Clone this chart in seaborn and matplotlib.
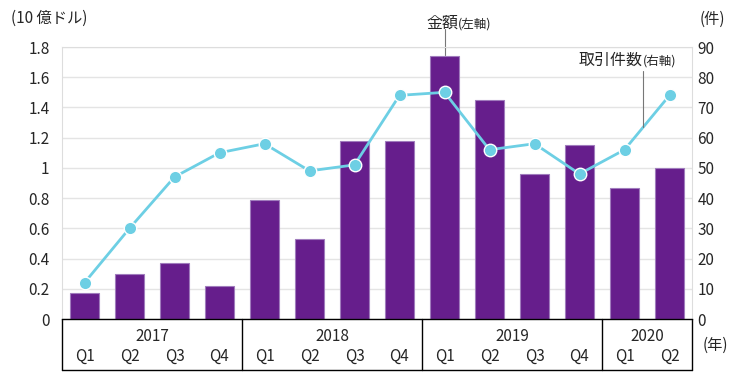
import numpy as np
import pandas as pd
import matplotlib
matplotlib.use('Agg')
import matplotlib.pyplot as plt
import matplotlib.transforms as mtransforms
import seaborn as sns

# data
year_of = ['2017'] * 4 + ['2018'] * 4 + ['2019'] * 4 + ['2020'] * 2
quarters = ['Q1', 'Q2', 'Q3', 'Q4'] * 3 + ['Q1', 'Q2']
amount = [0.17, 0.30, 0.37, 0.22, 0.79, 0.53, 1.18, 1.175,
          1.74, 1.45, 0.96, 1.15, 0.865, 1.00]   # 10 億ドル (left axis)
deals = [12, 30, 47, 55, 58, 49, 51, 74, 75, 56, 58, 48, 56, 74]  # 件 (right axis)
left_ticks = [0, 0.2, 0.4, 0.6, 0.8, 1.0, 1.2, 1.4, 1.6, 1.8]
left_labels = ['0', '0.2', '0.4', '0.6', '0.8', '1', '1.2', '1.4', '1.6', '1.8']
right_ticks = [0, 10, 20, 30, 40, 50, 60, 70, 80, 90]

BAR = '#661e8c'
BAR_EDGE = '#a07cbd'
LINE = '#6dcfe4'

df = pd.DataFrame({'period': [y + q for y, q in zip(year_of, quarters)],
                   'year': year_of, 'quarter': quarters,
                   'amount': amount, 'deals': deals})
df['pos'] = np.arange(len(df))

sns.set_style('white')
plt.rcParams['font.family'] = ['Noto Sans CJK JP', 'DejaVu Sans']
FS = 11

fig = plt.figure(figsize=(7.5, 3.9), dpi=100)
ax = fig.add_axes([62 / 750, 71 / 390, 630 / 750, 272 / 390])

sns.barplot(data=df, x='period', y='amount', color=BAR, saturation=1,
            width=0.64, edgecolor=BAR_EDGE, linewidth=0.8, ax=ax)
ax2 = ax.twinx()
sns.lineplot(x=df['pos'], y=df['deals'], ax=ax2, color=LINE, lw=2,
             marker='o', markersize=9, markeredgecolor='white',
             markeredgewidth=1)

n = len(df)
ax.set_xlim(-0.5, n - 0.5)
ax.set_ylim(0, 1.8)
ax2.set_ylim(0, 90)
ax.set_xlabel('')
ax.set_ylabel('')
ax2.set_ylabel('')

ax.set_yticks(left_ticks)
ax.set_yticklabels(left_labels, fontsize=FS)
ax.tick_params(axis='y', length=0, pad=9)
ax2.set_yticks(right_ticks)
ax2.set_yticklabels([str(t) for t in right_ticks], fontsize=FS)
ax2.tick_params(axis='y', length=0, pad=4)

ax.set_xticks([])
ax.set_xticks(np.arange(-0.5, n, 1), minor=True)
ax.tick_params(axis='x', which='minor', direction='in', length=4,
               color='#999999', width=1)

ax.yaxis.grid(True, color='#e4e4e4', lw=1)
ax.set_axisbelow(True)
for s in ['top', 'left', 'right']:
    ax.spines[s].set_color('#dddddd')
ax.spines['bottom'].set_color('black')
ax.spines['bottom'].set_linewidth(1)
for s in ax2.spines.values():
    s.set_visible(False)

# category box under the axis
trans = mtransforms.blended_transform_factory(ax.transData, ax.transAxes)
box_bottom = -0.1875
years = list(dict.fromkeys(year_of))
bounds = [-0.5]
for y in years:
    bounds.append(bounds[-1] + year_of.count(y))
for b in bounds:
    ax.plot([b, b], [0, box_bottom], transform=trans, color='black',
            lw=1, clip_on=False)
ax.plot([bounds[0], bounds[-1]], [box_bottom, box_bottom], transform=trans,
        color='black', lw=1, clip_on=False)
for i, y in enumerate(years):
    ax.text((bounds[i] + bounds[i + 1]) / 2, -0.066, y, transform=trans,
            ha='center', va='center', fontsize=FS)
for p, q in zip(df['pos'], df['quarter']):
    ax.text(p, -0.136, q, transform=trans, ha='center', va='center',
            fontsize=FS)

ax.text(n + 0.02, -0.096, '(年)', transform=trans, ha='center',
        va='center', fontsize=FS)
ax.text(-0.02, 1.107, '(10 億ドル)', transform=ax.transAxes, ha='center',
        va='center', fontsize=FS)
ax.text(1.032, 1.10, '(件)', transform=ax.transAxes, ha='center',
        va='center', fontsize=FS)

# annotations
peak = int(np.argmax(amount))
ax.plot([peak, peak], [amount[peak] + 0.01, 1.92], color='#777777', lw=0.8,
        clip_on=False)
ax.text(peak + 0.3, 1.96, '金額', ha='right', va='center', fontsize=11.5)
ax.text(peak + 0.3, 1.955, '(左軸)', ha='left', va='center', fontsize=9)

lx = n - 2 + 0.41
ly = deals[-2] + 0.41 * (deals[-1] - deals[-2])
ax2.plot([lx, lx], [ly, 82], color='#777777', lw=0.8, clip_on=False)
ax2.text(lx, 85.7, '取引件数', ha='right', va='center', fontsize=11.5)
ax2.text(lx, 85.5, '(右軸)', ha='left', va='center', fontsize=9)

fig.savefig('out.png', dpi=100)
